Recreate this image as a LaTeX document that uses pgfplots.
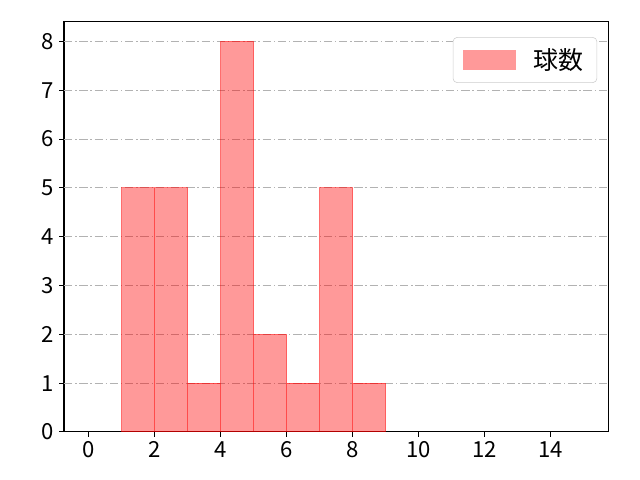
\documentclass[border=0pt]{standalone}
\usepackage{fontspec}
\setmainfont{Noto Sans CJK JP}
\usepackage{pgfplots}
\pgfplotsset{compat=1.18}
\usetikzlibrary{calc}

\begin{document}
\begin{tikzpicture}[x=1bp,y=1bp]
\begin{axis}[
    scale only axis,
    width=391.7bp, height=295.2bp,
    xmin=-0.75, xmax=15.75,
    ymin=0, ymax=8.4,
    xtick={0,2,...,14},
    ytick={0,1,...,8},
    extra y ticks={1,2,...,8},
    extra y tick labels={},
    extra y tick style={ymajorgrids=true, major tick length=0pt},
    tick align=outside,
    tick pos=left,
    major tick length=3.5bp,
    every tick/.style={black, line width=0.8bp},
    axis line style={line width=0.8bp},
    grid style={gray!60, line width=0.6bp, dash pattern=on 6bp off 2bp on 1bp off 2bp},
    tick label style={font=\fontsize{16}{19}\selectfont},
    /pgf/number format/assume math mode=true,
    legend style={at={(0.98,0.963)}, anchor=north east, draw=black!20,
      rounded corners=3bp, font=\fontsize{18}{21}\selectfont,
      inner xsep=7.5bp, inner ysep=6bp, nodes={inner sep=2bp}},
    legend cell align=left,
    legend image code/.code={
      \draw[sharp corners, fill=red, fill opacity=0.4, draw=red, draw opacity=0.4]
        (0bp,-6.5bp) rectangle (37bp,6.5bp);},
]
\addplot[ybar interval, fill=red, fill opacity=0.4, draw=red, draw opacity=0.5, line width=0.7bp]
coordinates {(1,5) (2,5) (3,1) (4,8) (5,2) (6,1) (7,5) (8,1) (9,0)};
\addlegendentry{\hspace{11bp}球数}
\end{axis}
\path[use as bounding box] ($(current axis.south west)+(-46.1bp,-34.6bp)$) rectangle ($(current axis.north east)+(23bp,15.8bp)$);
\end{tikzpicture}
\end{document}
